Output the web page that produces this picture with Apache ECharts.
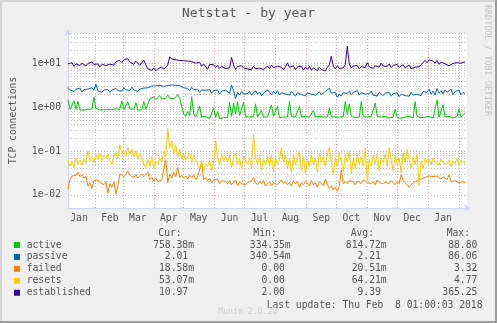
<!DOCTYPE html>
<html>
<head>
<meta charset="utf-8">
<script src="https://cdn.jsdelivr.net/npm/echarts@6/dist/echarts.min.js"></script>
<style>
  html, body { margin: 0; padding: 0; background: #f0f0f0; }
  #chart { width: 497px; height: 323px; }
</style>
</head>
<body>
<div id="chart"></div>
<script>
// Netstat yearly graph: one sample every 2 days, 5 Jan 2017 .. 8 Feb 2018
const startDate = Date.UTC(2017, 0, 5);
const dayCount = 401;
const sampleStep = 2;
const monthNames = ['Jan', 'Feb', 'Mar', 'Apr', 'May', 'Jun', 'Jul', 'Aug', 'Sep', 'Oct', 'Nov', 'Dec'];

const yDecades = [0.01, 0.1, 1, 10];
const yLabels = ['1e-02', '1e-01', '1e+00', '1e+01'];

const seriesNames = ['active', 'passive', 'failed', 'resets', 'established'];
const seriesColors = ['#00CC00', '#0066B3', '#FF8000', '#FFCC00', '#330099'];
const curText = ['758.38m', '2.01', '18.58m', '53.07m', '10.97'];
const minText = ['334.35m', '340.54m', '0.00', '0.00', '2.00'];
const avgText = ['814.72m', '2.21', '20.51m', '64.21m', '9.39'];
const maxText = ['88.80', '86.06', '3.32', '4.77', '365.25'];

const active = [
  1.48, 0.9, 0.95, 1.4, 0.9, 1.38, 0.88, 0.92, 0.87, 0.9,
  0.9, 0.86, 0.92, 1.7, 0.95, 0.9, 0.87, 0.92, 0.88, 0.85,
  0.9, 0.86, 0.89, 0.84, 0.92, 0.87, 0.9, 1.4, 0.9, 0.86,
  1.32, 0.92, 0.88, 0.9, 1.28, 0.86, 0.91, 0.88, 1.36, 0.9,
  0.92, 1.55, 1.6, 1.75, 1.5, 1.65, 1.85, 1.55, 1.7, 1.6,
  1.9, 1.65, 1.8, 1.55, 1.7, 1.95, 1.6, 1.72, 0.7, 0.62,
  0.8, 0.65, 1.75, 0.7, 0.6, 0.58, 1.05, 0.6, 0.56, 0.62,
  0.58, 0.55, 0.6, 0.95, 0.6, 0.8, 0.55, 0.6, 0.58, 0.62,
  0.6, 1.3, 0.62, 1.25, 0.7, 1.35, 0.65, 0.6, 1.3, 0.62,
  0.58, 0.6, 0.56, 0.62, 1.2, 0.6, 0.58, 0.85, 0.6, 0.57,
  0.6, 0.58, 1.13, 0.62, 0.6, 1.05, 0.58, 0.62, 0.6, 0.56,
  0.6, 1.35, 0.62, 0.58, 0.6, 0.56, 1.05, 0.6, 0.58, 0.62,
  0.57, 0.6, 0.58, 0.85, 0.6, 0.56, 0.62, 0.58, 0.6, 0.57,
  0.6, 0.95, 0.62, 0.58, 0.6, 0.56, 0.6, 0.58, 0.62, 1.35,
  0.7, 1.2, 0.62, 0.6, 0.58, 0.62, 0.6, 1.35, 0.62, 0.58,
  0.6, 0.58, 0.62, 0.6, 1.25, 0.62, 0.56, 0.6, 0.58, 0.62,
  0.6, 0.57, 0.62, 0.6, 0.9, 0.58, 0.6, 0.56, 0.62, 0.6,
  0.58, 0.62, 0.6, 0.57, 1.35, 0.62, 0.6, 0.58, 0.62, 0.6,
  0.58, 0.62, 0.6, 0.57, 0.62, 1.48, 0.6, 0.62, 1.15, 0.6,
  0.58, 0.62, 0.6, 0.57, 0.6, 0.62, 0.9, 0.6, 0.68, 0.75838
];

const passive = [
  2.85, 2.5, 2.7, 2.3, 2.6, 2.4, 2.75, 2.2, 2.55, 2.4,
  2.6, 2.35, 2.8, 2.5, 3.35, 2.4, 2.6, 2.2, 2.5, 2.3,
  2.55, 2.2, 2.45, 2.3, 2.7, 2.4, 2.6, 2.35, 2.8, 2.5,
  2.65, 2.45, 2.9, 2.5, 2.7, 2.3, 2.6, 2.45, 2.75, 2.55,
  2.8, 2.9, 3.05, 2.85, 3.1, 2.9, 3.2, 2.95, 3.0, 3.1,
  3.15, 2.95, 3.25, 3.05, 3.2, 2.9, 3.1, 3.0, 2.8, 2.6,
  2.7, 2.4, 2.85, 2.55, 2.3, 2.6, 2.2, 2.5, 2.35, 2.45,
  2.3, 2.55, 2.1, 2.4, 2.25, 2.5, 2.0, 2.35, 2.2, 2.45,
  2.3, 2.1, 3.2, 2.4, 1.6, 2.2, 1.9, 2.3, 2.0, 2.2,
  2.05, 2.3, 1.9, 2.15, 2.4, 2.0, 2.25, 1.85, 2.1, 2.3,
  2.5, 2.2, 1.95, 2.3, 2.05, 2.4, 1.9, 2.15, 2.35, 2.0,
  2.2, 1.9, 2.3, 2.05, 1.8, 2.15, 2.3, 1.95, 2.1, 1.85,
  2.15, 2.35, 2.0, 2.2, 1.9, 2.1, 2.25, 1.95, 2.1, 2.3,
  2.4, 2.75, 2.1, 1.9, 2.2, 1.7, 2.0, 1.8, 2.15, 2.3,
  2.1, 2.35, 1.95, 2.2, 2.05, 2.4, 1.9, 2.15, 2.3, 2.0,
  2.2, 2.05, 2.35, 1.9, 2.1, 1.8, 2.2, 2.0, 1.85, 2.1,
  1.95, 2.2, 1.8, 2.05, 1.9, 2.15, 1.75, 2.0, 2.1, 1.85,
  2.05, 1.8, 2.2, 1.9, 1.75, 2.0, 2.15, 1.85, 2.3, 2.55,
  2.2, 2.6, 2.0, 2.35, 1.9, 2.7, 2.1, 2.4, 2.0, 2.5,
  2.2, 2.05, 2.6, 1.95, 2.3, 2.1, 2.45, 1.95, 2.2, 2.01
];

const failed = [
  0.0135, 0.022, 0.027, 0.025, 0.028, 0.033, 0.026, 0.029, 0.024, 0.027,
  0.016, 0.019, 0.014, 0.021, 0.02, 0.022, 0.019, 0.021, 0.017, 0.02,
  0.011, 0.018, 0.015, 0.02, 0.0105, 0.016, 0.03, 0.033, 0.026, 0.029,
  0.035, 0.028, 0.031, 0.025, 0.029, 0.024, 0.027, 0.03, 0.026, 0.027,
  0.033, 0.022, 0.025, 0.021, 0.024, 0.02, 0.021, 0.022, 0.02, 0.064,
  0.019, 0.03, 0.024, 0.033, 0.026, 0.042, 0.025, 0.028, 0.024, 0.027,
  0.023, 0.028, 0.025, 0.029, 0.022, 0.026, 0.024, 0.055, 0.022, 0.025,
  0.021, 0.024, 0.019, 0.022, 0.02, 0.023, 0.018, 0.021, 0.019, 0.02,
  0.018, 0.021, 0.017, 0.019, 0.022, 0.016, 0.02, 0.018, 0.019, 0.017,
  0.019, 0.018, 0.021, 0.025, 0.019, 0.017, 0.02, 0.018, 0.021, 0.016,
  0.018, 0.02, 0.016, 0.019, 0.021, 0.017, 0.019, 0.022, 0.018, 0.02,
  0.017, 0.019, 0.016, 0.021, 0.018, 0.02, 0.015, 0.019, 0.017, 0.02,
  0.018, 0.016, 0.021, 0.017, 0.019, 0.015, 0.02, 0.018, 0.016, 0.023,
  0.017, 0.014, 0.016, 0.013, 0.015, 0.012, 0.016, 0.037, 0.018, 0.02,
  0.018, 0.021, 0.019, 0.02, 0.017, 0.021, 0.019, 0.018, 0.022, 0.02,
  0.019, 0.021, 0.018, 0.02, 0.017, 0.022, 0.019, 0.021, 0.018, 0.02,
  0.02, 0.018, 0.021, 0.019, 0.017, 0.02, 0.018, 0.029, 0.021, 0.019,
  0.017, 0.015, 0.016, 0.019, 0.018, 0.021, 0.02, 0.023, 0.022, 0.025,
  0.024, 0.027, 0.025, 0.026, 0.024, 0.027, 0.025, 0.023, 0.026, 0.024,
  0.022, 0.029, 0.02, 0.019, 0.021, 0.02, 0.019, 0.021, 0.02, 0.01858
];

const resets = [
  0.064, 0.045, 0.058, 0.042, 0.07, 0.05, 0.062, 0.048, 0.066, 0.055,
  0.1, 0.06, 0.075, 0.055, 0.085, 0.065, 0.09, 0.06, 0.08, 0.07,
  0.085, 0.06, 0.05, 0.075, 0.09, 0.068, 0.14, 0.085, 0.1, 0.075,
  0.12, 0.085, 0.11, 0.075, 0.1, 0.065, 0.09, 0.07, 0.05, 0.042,
  0.065, 0.045, 0.075, 0.04, 0.06, 0.05, 0.07, 0.055, 0.1, 0.075,
  0.33, 0.12, 0.17, 0.09, 0.14, 0.075, 0.11, 0.065, 0.085, 0.06,
  0.075, 0.09, 0.055, 0.08, 0.065, 0.05, 0.04, 0.058, 0.035, 0.05,
  0.045, 0.062, 0.036, 0.055, 0.17, 0.07, 0.05, 0.085, 0.06, 0.075,
  0.055, 0.08, 0.042, 0.07, 0.09, 0.05, 0.065, 0.04, 0.075, 0.06,
  0.05, 0.068, 0.04, 0.24, 0.07, 0.05, 0.08, 0.036, 0.065, 0.05,
  0.075, 0.045, 0.085, 0.034, 0.07, 0.05, 0.065, 0.12, 0.055, 0.08,
  0.04, 0.07, 0.032, 0.085, 0.05, 0.065, 0.1, 0.035, 0.075, 0.03,
  0.065, 0.045, 0.08, 0.05, 0.07, 0.032, 0.09, 0.055, 0.075, 0.045,
  0.085, 0.12, 0.055, 0.029, 0.07, 0.045, 0.09, 0.06, 0.034, 0.08,
  0.055, 0.1, 0.03, 0.07, 0.04, 0.085, 0.05, 0.075, 0.045, 0.12,
  0.022, 0.065, 0.045, 0.08, 0.05, 0.09, 0.035, 0.07, 0.055, 0.085,
  0.045, 0.12, 0.06, 0.035, 0.08, 0.05, 0.07, 0.032, 0.09, 0.055,
  0.11, 0.06, 0.04, 0.075, 0.05, 0.085, 0.016, 0.06, 0.04, 0.07,
  0.055, 0.065, 0.05, 0.07, 0.058, 0.062, 0.048, 0.066, 0.055, 0.06,
  0.05, 0.064, 0.045, 0.06, 0.052, 0.068, 0.047, 0.062, 0.055, 0.05307
];

const established = [
  9.8, 9.2, 10.5, 8.6, 9.9, 10.8, 9.0, 10.2, 9.4, 8.8,
  10.1, 9.3, 10.9, 9.6, 8.7, 9.8, 8.4, 9.6, 10.3, 9.0,
  8.9, 9.7, 10.4, 9.2, 11.0, 10.2, 11.8, 10.6, 12.4, 11.2,
  12.8, 10.9, 12.0, 9.6, 11.4, 10.2, 9.1, 10.0, 11.9, 9.4,
  7.6, 8.2, 7.0, 7.9, 6.8, 7.6, 7.2, 8.3, 7.4, 8.0,
  9.2, 14.3, 12.6, 13.0, 12.2, 12.9, 11.8, 12.5, 11.6, 12.3,
  11.4, 12.0, 11.0, 11.7, 10.3, 9.4, 10.6, 8.7, 9.8, 8.9,
  7.4, 9.6, 8.9, 9.4, 8.1, 9.0, 7.8, 8.7, 8.3, 7.7,
  8.4, 8.0, 13.8, 9.2, 7.4, 8.6, 7.8, 8.9, 7.9, 8.6,
  7.5, 8.3, 7.2, 8.8, 7.6, 8.4, 7.9, 8.6, 7.3, 8.1,
  8.8, 7.6, 9.2, 8.1, 7.4, 8.6, 7.9, 8.3, 7.2, 8.5,
  10.4, 8.2, 7.6, 8.9, 7.3, 8.4, 7.8, 8.7, 7.1, 8.3,
  7.4, 8.6, 7.0, 8.0, 7.6, 6.9, 8.2, 7.3, 7.9, 6.8,
  8.2, 9.4, 14.8, 8.7, 7.6, 8.9, 7.8, 8.4, 8.0, 9.6,
  25.0, 9.8, 7.9, 8.8, 8.2, 9.0, 7.6, 8.5, 9.3, 8.1,
  10.5, 8.4, 9.2, 7.8, 8.9, 9.6, 8.3, 10.2, 8.8, 9.4,
  8.6, 9.8, 8.1, 9.1, 8.5, 9.6, 8.2, 8.9, 9.4, 8.0,
  8.7, 9.2, 7.6, 7.0, 8.3, 9.1, 8.4, 9.5, 10.2, 11.8,
  10.4, 12.1, 10.9, 11.5, 10.2, 11.8, 9.6, 10.8, 11.4, 9.9,
  10.6, 8.9, 9.6, 10.1, 9.3, 10.5, 9.8, 10.2, 10.6, 10.97
];

const seriesValues = [active, passive, failed, resets, established];

// daily categories along the time axis
const categories = [];
for (let i = 0; i < dayCount; i++) {
  categories.push(new Date(startDate + i * 86400000).toISOString().slice(0, 10));
}

const FONT = '"DejaVu Sans Mono", monospace';
const TEXT = '#555555';
const AXIS = '#CFD6F8';
const MAJOR_GRID = '#f0a4a4';
const MINOR_GRID = '#c6c6c6';
const Y_MIN = 0.005, Y_MAX = 50;

// horizontal grid: dotted red at decades, dotted grey at 2..9 multiples
const gridLines = [];
for (let e = -3; e <= 1; e++) {
  for (let m = 1; m <= 9; m++) {
    const v = +(m * Math.pow(10, e)).toPrecision(6);
    if (v <= Y_MIN * 1.01 || v > Y_MAX * 1.0001) continue;
    gridLines.push({
      yAxis: v,
      lineStyle: { color: m === 1 ? MAJOR_GRID : MINOR_GRID, type: [1, 2], width: 1 }
    });
  }
}

const series = seriesNames.map((name, s) => ({
  name,
  type: 'line',
  data: seriesValues[s].map((v, i) => [i * sampleStep, v]),
  showSymbol: false,
  symbol: 'none',
  lineStyle: { color: seriesColors[s], width: 1 },
  itemStyle: { color: seriesColors[s] },
  z: 3 + s,
  animation: false,
  silent: true
}));
series[0].markLine = {
  silent: true,
  symbol: ['none', 'none'],
  label: { show: false },
  animation: false,
  z: 1,
  data: gridLines
};

// legend table below the plot
const graphics = [
  { type: 'rect', shape: { x: 0, y: 0, width: 497, height: 2 }, style: { fill: '#d4d4d4' }, silent: true },
  { type: 'rect', shape: { x: 0, y: 0, width: 2, height: 323 }, style: { fill: '#d4d4d4' }, silent: true },
  { type: 'rect', shape: { x: 495, y: 0, width: 2, height: 323 }, style: { fill: '#9c9c9c' }, silent: true },
  { type: 'rect', shape: { x: 0, y: 321, width: 497, height: 2 }, style: { fill: '#9c9c9c' }, silent: true },
  { type: 'text', x: 248.5, y: 14, style: { text: 'Netstat - by year', fill: TEXT, fontFamily: FONT, fontSize: 13, align: 'center', verticalAlign: 'middle' } },
  { type: 'text', x: 487, y: 5, rotation: -Math.PI / 2, style: { text: 'RRDTOOL / TOBI OETIKER', fill: '#c4c4c4', fontFamily: FONT, fontSize: 8.4, align: 'left', verticalAlign: 'middle' } },
  { type: 'text', x: 158.3, y: 233.3, style: { text: 'Cur:', fill: TEXT, fontFamily: FONT, fontSize: 9.7, align: 'left', verticalAlign: 'middle' } },
  { type: 'text', x: 253.3, y: 233.3, style: { text: 'Min:', fill: TEXT, fontFamily: FONT, fontSize: 9.7, align: 'left', verticalAlign: 'middle' } },
  { type: 'text', x: 350.7, y: 233.3, style: { text: 'Avg:', fill: TEXT, fontFamily: FONT, fontSize: 9.7, align: 'left', verticalAlign: 'middle' } },
  { type: 'text', x: 446.7, y: 233.3, style: { text: 'Max:', fill: TEXT, fontFamily: FONT, fontSize: 9.7, align: 'left', verticalAlign: 'middle' } },
  { type: 'text', x: 482.5, y: 305, style: { text: 'Last update: Thu Feb  8 01:00:03 2018', fill: TEXT, fontFamily: FONT, fontSize: 9.7, align: 'right', verticalAlign: 'middle' } },
  { type: 'text', x: 247.8, y: 312.3, style: { text: 'Munin 2.0.20', fill: '#cccccc', fontFamily: FONT, fontSize: 8.2, align: 'center', verticalAlign: 'middle' } }
];
const colRight = [194, 290.7, 386.7, 483.2];
const colText = [curText, minText, avgText, maxText];
seriesNames.forEach((name, s) => {
  const y = 245 + s * 11.93;
  graphics.push({ type: 'rect', shape: { x: 14, y: y - 3, width: 6, height: 6 }, style: { fill: seriesColors[s] }, silent: true });
  graphics.push({ type: 'text', x: 26.7, y, style: { text: name, fill: TEXT, fontFamily: FONT, fontSize: 9.7, align: 'left', verticalAlign: 'middle' } });
  colText.forEach((col, c) => {
    const t = col[s];
    const padded = /[a-zA-Z]$/.test(t) ? t : t + ' ';
    graphics.push({ type: 'text', x: colRight[c], y, style: { text: padded, fill: TEXT, fontFamily: FONT, fontSize: 9.7, align: 'right', verticalAlign: 'middle' } });
  });
});

const chart = echarts.init(document.getElementById('chart'), null, { renderer: 'canvas' });
chart.setOption({
  backgroundColor: '#f0f0f0',
  animation: false,
  grid: { left: 67, top: 33, width: 400, height: 175, show: true, backgroundColor: '#ffffff', borderWidth: 0 },
  xAxis: {
    type: 'category',
    data: categories,
    boundaryGap: false,
    axisLine: { show: true, lineStyle: { color: AXIS, width: 1 }, symbol: ['none', 'arrow'], symbolSize: [6, 7], symbolOffset: [0, 4] },
    axisTick: { show: false },
    splitLine: {
      show: true,
      interval: (i, v) => v.slice(8) === '01',
      lineStyle: { color: MAJOR_GRID, type: [1, 2], width: 1 }
    },
    axisLabel: {
      interval: (i, v) => v.slice(8) === '16',
      formatter: v => monthNames[+v.slice(5, 7) - 1],
      color: TEXT, fontFamily: FONT, fontSize: 9.7, margin: 5
    }
  },
  yAxis: {
    type: 'log',
    logBase: 10,
    min: Y_MIN,
    max: Y_MAX,
    name: 'TCP connections',
    nameLocation: 'middle',
    nameRotate: 90,
    nameGap: 50,
    nameTextStyle: { color: TEXT, fontFamily: FONT, fontSize: 9.7 },
    axisLine: { show: true, lineStyle: { color: AXIS, width: 1 }, symbol: ['none', 'arrow'], symbolSize: [6, 7], symbolOffset: [0, 4] },
    axisTick: { show: false },
    splitLine: { show: false },
    axisLabel: {
      color: TEXT, fontFamily: FONT, fontSize: 9.7, margin: 7,
      showMinLabel: false, showMaxLabel: false,
      formatter: v => {
        const k = yDecades.findIndex(d => Math.abs(Math.log10(v) - Math.log10(d)) < 1e-6);
        return k >= 0 ? yLabels[k] : '';
      }
    }
  },
  series,
  graphic: { elements: graphics }
});
</script>
</body>
</html>
